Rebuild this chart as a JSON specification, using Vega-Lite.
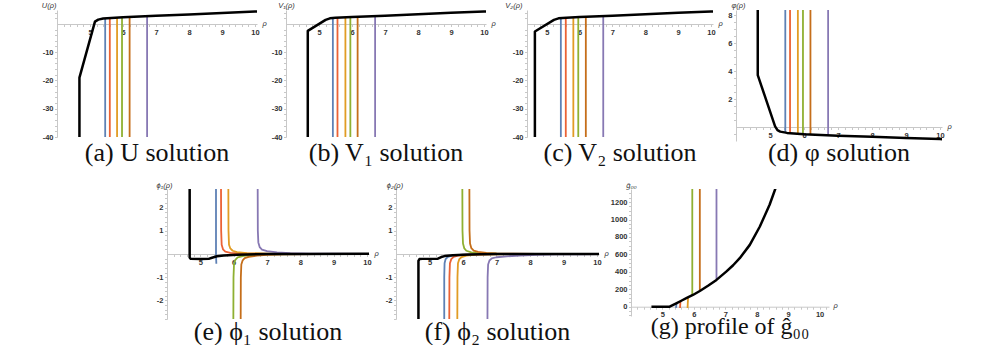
{
"$schema": "https://vega.github.io/schema/vega-lite/v6.json",
"padding": {"left": 41, "top": 1, "right": 2, "bottom": 0},
"background": "white",
"config": {
  "view": {"stroke": null},
  "axis": {"labelFont": "Liberation Sans", "labelFontSize": 7.5, "labelColor": "#333", "labelFontWeight": "bold", "domainColor": "#c8c8c8", "tickColor": "#c8c8c8", "tickSize": 2.5, "labelPadding": 1.5, "grid": false, "titleFont": "Liberation Sans", "titleFontSize": 7.5, "titleFontWeight": "normal", "titleFontStyle": "italic", "titleColor": "#333", "labelOverlap": false, "labelFlush": false, "titleAngle": 0},
  "title": {"font": "Liberation Serif", "fontSize": 26, "fontWeight": "normal", "color": "#111", "orient": "bottom", "anchor": "middle", "frame": "group", "baseline": "alphabetic", "offset": -1},
  "line": {"strokeJoin": "round", "clip": true}
},
"datasets": {
  "a": [
    {"s":"K","x":4.68,"y":-45,"i":0},{"s":"K","x":4.68,"y":-19,"i":1},{"s":"K","x":5.15,"y":0.8,"i":2},{"s":"K","x":5.25,"y":1.5,"i":3},{"s":"K","x":5.4,"y":1.9,"i":4},{"s":"K","x":6,"y":2.3,"i":5},{"s":"K","x":7,"y":2.85,"i":6},{"s":"K","x":8,"y":3.35,"i":7},{"s":"K","x":9,"y":3.85,"i":8},{"s":"K","x":10,"y":4.35,"i":9},{"s":"K","x":10.1,"y":4.4,"i":10},
    {"s":"B","x":5.46,"y":-45,"i":0},{"s":"B","x":5.46,"y":1.95,"i":1},
    {"s":"R","x":5.6,"y":-45,"i":0},{"s":"R","x":5.6,"y":2.05,"i":1},
    {"s":"O","x":5.82,"y":-45,"i":0},{"s":"O","x":5.82,"y":2.2,"i":1},
    {"s":"G","x":5.97,"y":-45,"i":0},{"s":"G","x":5.97,"y":2.28,"i":1},
    {"s":"D","x":6.2,"y":-45,"i":0},{"s":"D","x":6.2,"y":2.4,"i":1},
    {"s":"P","x":6.73,"y":-45,"i":0},{"s":"P","x":6.73,"y":2.7,"i":1}
  ],
  "b": [
    {"s":"K","x":4.66,"y":-45,"i":0},{"s":"K","x":4.66,"y":-2.5,"i":1},{"s":"K","x":5.2,"y":1.4,"i":2},{"s":"K","x":5.33,"y":1.95,"i":3},{"s":"K","x":5.5,"y":2.15,"i":4},{"s":"K","x":6,"y":2.4,"i":5},{"s":"K","x":7,"y":2.9,"i":6},{"s":"K","x":8,"y":3.4,"i":7},{"s":"K","x":9,"y":3.9,"i":8},{"s":"K","x":10,"y":4.35,"i":9},{"s":"K","x":10.1,"y":4.4,"i":10},
    {"s":"B","x":5.42,"y":-45,"i":0},{"s":"B","x":5.42,"y":2.1,"i":1},
    {"s":"R","x":5.56,"y":-45,"i":0},{"s":"R","x":5.56,"y":2.2,"i":1},
    {"s":"O","x":5.8,"y":-45,"i":0},{"s":"O","x":5.8,"y":2.3,"i":1},
    {"s":"G","x":5.95,"y":-45,"i":0},{"s":"G","x":5.95,"y":2.38,"i":1},
    {"s":"D","x":6.17,"y":-45,"i":0},{"s":"D","x":6.17,"y":2.48,"i":1},
    {"s":"P","x":6.7,"y":-45,"i":0},{"s":"P","x":6.7,"y":2.75,"i":1}
  ],
  "c": [
    {"s":"K","x":4.64,"y":-45,"i":0},{"s":"K","x":4.64,"y":-2.7,"i":1},{"s":"K","x":5.22,"y":1.4,"i":2},{"s":"K","x":5.36,"y":1.95,"i":3},{"s":"K","x":5.6,"y":2.2,"i":4},{"s":"K","x":6,"y":2.4,"i":5},{"s":"K","x":7,"y":2.9,"i":6},{"s":"K","x":8,"y":3.4,"i":7},{"s":"K","x":9,"y":3.9,"i":8},{"s":"K","x":10,"y":4.35,"i":9},{"s":"K","x":10.1,"y":4.4,"i":10},
    {"s":"B","x":5.43,"y":-45,"i":0},{"s":"B","x":5.43,"y":2.05,"i":1},
    {"s":"R","x":5.58,"y":-45,"i":0},{"s":"R","x":5.58,"y":2.2,"i":1},
    {"s":"O","x":5.81,"y":-45,"i":0},{"s":"O","x":5.81,"y":2.3,"i":1},
    {"s":"G","x":5.96,"y":-45,"i":0},{"s":"G","x":5.96,"y":2.38,"i":1},
    {"s":"D","x":6.19,"y":-45,"i":0},{"s":"D","x":6.19,"y":2.5,"i":1},
    {"s":"P","x":6.72,"y":-45,"i":0},{"s":"P","x":6.72,"y":2.75,"i":1}
  ],
  "d": [
    {"s":"K","x":4.64,"y":9,"i":0},{"s":"K","x":4.64,"y":3.7,"i":1},{"s":"K","x":5.15,"y":0.05,"i":2},{"s":"K","x":5.22,"y":-0.22,"i":3},{"s":"K","x":5.3,"y":-0.33,"i":4},{"s":"K","x":5.5,"y":-0.42,"i":5},{"s":"K","x":6,"y":-0.52,"i":6},{"s":"K","x":7,"y":-0.62,"i":7},{"s":"K","x":8,"y":-0.7,"i":8},{"s":"K","x":9,"y":-0.78,"i":9},{"s":"K","x":10,"y":-0.86,"i":10},{"s":"K","x":10.1,"y":-0.87,"i":11},
    {"s":"B","x":5.45,"y":9,"i":0},{"s":"B","x":5.45,"y":-0.4,"i":1},
    {"s":"R","x":5.59,"y":9,"i":0},{"s":"R","x":5.59,"y":-0.44,"i":1},
    {"s":"O","x":5.82,"y":9,"i":0},{"s":"O","x":5.82,"y":-0.49,"i":1},
    {"s":"G","x":5.97,"y":9,"i":0},{"s":"G","x":5.97,"y":-0.52,"i":1},
    {"s":"D","x":6.19,"y":9,"i":0},{"s":"D","x":6.19,"y":-0.54,"i":1},
    {"s":"P","x":6.71,"y":9,"i":0},{"s":"P","x":6.71,"y":-0.59,"i":1}
  ],
  "e": [
    {"s":"K","x":4.68,"y":3,"i":0},{"s":"K","x":4.68,"y":-0.15,"i":1},{"s":"K","x":4.71,"y":-0.21,"i":2},{"s":"K","x":5.0,"y":-0.22,"i":3},{"s":"K","x":5.25,"y":-0.21,"i":4},{"s":"K","x":5.35,"y":-0.16,"i":5},{"s":"K","x":5.5,"y":-0.1,"i":6},{"s":"K","x":5.7,"y":-0.06,"i":7},{"s":"K","x":6.1,"y":-0.03,"i":8},{"s":"K","x":7,"y":-0.005,"i":9},{"s":"K","x":8,"y":0.005,"i":10},{"s":"K","x":10.1,"y":0.01,"i":11},
    {"s":"B","x":5.47,"y":3,"i":0},{"s":"B","x":5.47,"y":0,"i":1},{"s":"B","x":5.48,"y":-0.42,"i":2},
    {"s":"R","x":5.62,"y":3,"i":0},{"s":"R","x":5.625,"y":1,"i":1},{"s":"R","x":5.64,"y":0.4,"i":2},{"s":"R","x":5.68,"y":0.2,"i":3},{"s":"R","x":5.75,"y":0.1,"i":4},{"s":"R","x":5.9,"y":0.05,"i":5},{"s":"R","x":6.3,"y":0.02,"i":6},{"s":"R","x":7,"y":0.005,"i":7},{"s":"R","x":10.1,"y":0,"i":8},
    {"s":"O","x":5.84,"y":3,"i":0},{"s":"O","x":5.845,"y":1,"i":1},{"s":"O","x":5.86,"y":0.4,"i":2},{"s":"O","x":5.9,"y":0.24,"i":3},{"s":"O","x":5.97,"y":0.14,"i":4},{"s":"O","x":6.1,"y":0.08,"i":5},{"s":"O","x":6.4,"y":0.04,"i":6},{"s":"O","x":7,"y":0.015,"i":7},{"s":"O","x":8,"y":0.005,"i":8},{"s":"O","x":10.1,"y":0,"i":9},
    {"s":"G","x":5.99,"y":-3,"i":0},{"s":"G","x":5.995,"y":-1,"i":1},{"s":"G","x":6.01,"y":-0.45,"i":2},{"s":"G","x":6.05,"y":-0.25,"i":3},{"s":"G","x":6.12,"y":-0.15,"i":4},{"s":"G","x":6.3,"y":-0.08,"i":5},{"s":"G","x":6.6,"y":-0.04,"i":6},{"s":"G","x":7,"y":-0.02,"i":7},{"s":"G","x":8,"y":-0.005,"i":8},{"s":"G","x":10.1,"y":0,"i":9},
    {"s":"D","x":6.21,"y":-3,"i":0},{"s":"D","x":6.215,"y":-1,"i":1},{"s":"D","x":6.23,"y":-0.45,"i":2},{"s":"D","x":6.27,"y":-0.27,"i":3},{"s":"D","x":6.33,"y":-0.18,"i":4},{"s":"D","x":6.45,"y":-0.12,"i":5},{"s":"D","x":6.7,"y":-0.07,"i":6},{"s":"D","x":7,"y":-0.04,"i":7},{"s":"D","x":7.5,"y":-0.015,"i":8},{"s":"D","x":8.5,"y":-0.005,"i":9},{"s":"D","x":10.1,"y":0,"i":10},
    {"s":"P","x":6.72,"y":3,"i":0},{"s":"P","x":6.725,"y":1,"i":1},{"s":"P","x":6.74,"y":0.5,"i":2},{"s":"P","x":6.78,"y":0.3,"i":3},{"s":"P","x":6.85,"y":0.19,"i":4},{"s":"P","x":7,"y":0.12,"i":5},{"s":"P","x":7.3,"y":0.07,"i":6},{"s":"P","x":7.7,"y":0.04,"i":7},{"s":"P","x":8.3,"y":0.02,"i":8},{"s":"P","x":9,"y":0.01,"i":9},{"s":"P","x":10.1,"y":0.005,"i":10}
  ],
  "f": [
    {"s":"K","x":4.67,"y":-3,"i":0},{"s":"K","x":4.67,"y":-0.3,"i":1},{"s":"K","x":4.7,"y":-0.22,"i":2},{"s":"K","x":4.8,"y":-0.21,"i":3},{"s":"K","x":5.25,"y":-0.2,"i":4},{"s":"K","x":5.35,"y":-0.13,"i":5},{"s":"K","x":5.45,"y":-0.09,"i":6},{"s":"K","x":5.7,"y":-0.05,"i":7},{"s":"K","x":6,"y":-0.03,"i":8},{"s":"K","x":6.5,"y":-0.01,"i":9},{"s":"K","x":7,"y":0,"i":10},{"s":"K","x":10.1,"y":0.005,"i":11},
    {"s":"B","x":5.44,"y":-3,"i":0},{"s":"B","x":5.44,"y":-1,"i":1},{"s":"B","x":5.45,"y":-0.4,"i":2},{"s":"B","x":5.48,"y":-0.22,"i":3},{"s":"B","x":5.55,"y":-0.12,"i":4},{"s":"B","x":5.7,"y":-0.06,"i":5},{"s":"B","x":6,"y":-0.03,"i":6},{"s":"B","x":6.5,"y":-0.01,"i":7},{"s":"B","x":7,"y":0,"i":8},{"s":"B","x":10.1,"y":0,"i":9},
    {"s":"R","x":5.59,"y":-3,"i":0},{"s":"R","x":5.595,"y":-1,"i":1},{"s":"R","x":5.61,"y":-0.4,"i":2},{"s":"R","x":5.65,"y":-0.22,"i":3},{"s":"R","x":5.72,"y":-0.12,"i":4},{"s":"R","x":5.85,"y":-0.07,"i":5},{"s":"R","x":6.1,"y":-0.03,"i":6},{"s":"R","x":6.6,"y":-0.01,"i":7},{"s":"R","x":7.2,"y":0,"i":8},{"s":"R","x":10.1,"y":0,"i":9},
    {"s":"O","x":5.83,"y":-3,"i":0},{"s":"O","x":5.835,"y":-1,"i":1},{"s":"O","x":5.85,"y":-0.4,"i":2},{"s":"O","x":5.89,"y":-0.22,"i":3},{"s":"O","x":5.96,"y":-0.13,"i":4},{"s":"O","x":6.1,"y":-0.07,"i":5},{"s":"O","x":6.4,"y":-0.03,"i":6},{"s":"O","x":6.9,"y":-0.01,"i":7},{"s":"O","x":7.5,"y":0,"i":8},{"s":"O","x":10.1,"y":0,"i":9},
    {"s":"G","x":5.98,"y":3,"i":0},{"s":"G","x":5.985,"y":1,"i":1},{"s":"G","x":6,"y":0.45,"i":2},{"s":"G","x":6.04,"y":0.24,"i":3},{"s":"G","x":6.1,"y":0.14,"i":4},{"s":"G","x":6.25,"y":0.07,"i":5},{"s":"G","x":6.5,"y":0.03,"i":6},{"s":"G","x":7,"y":0.01,"i":7},{"s":"G","x":10.1,"y":0,"i":8},
    {"s":"D","x":6.19,"y":3,"i":0},{"s":"D","x":6.195,"y":1,"i":1},{"s":"D","x":6.21,"y":0.45,"i":2},{"s":"D","x":6.25,"y":0.25,"i":3},{"s":"D","x":6.32,"y":0.15,"i":4},{"s":"D","x":6.45,"y":0.09,"i":5},{"s":"D","x":6.7,"y":0.05,"i":6},{"s":"D","x":7,"y":0.03,"i":7},{"s":"D","x":7.5,"y":0.015,"i":8},{"s":"D","x":8.2,"y":0.005,"i":9},{"s":"D","x":10.1,"y":0,"i":10},
    {"s":"P","x":6.73,"y":-3,"i":0},{"s":"P","x":6.735,"y":-1,"i":1},{"s":"P","x":6.75,"y":-0.45,"i":2},{"s":"P","x":6.79,"y":-0.28,"i":3},{"s":"P","x":6.86,"y":-0.19,"i":4},{"s":"P","x":7,"y":-0.14,"i":5},{"s":"P","x":7.3,"y":-0.1,"i":6},{"s":"P","x":7.7,"y":-0.07,"i":7},{"s":"P","x":8.2,"y":-0.04,"i":8},{"s":"P","x":8.8,"y":-0.02,"i":9},{"s":"P","x":9.5,"y":-0.01,"i":10},{"s":"P","x":10.1,"y":0,"i":11}
  ],
  "g": [
    {"s":"K","x":4.65,"y":0,"i":0},{"s":"K","x":5.23,"y":0,"i":1},{"s":"K","x":5.44,"y":39,"i":2},{"s":"K","x":5.6,"y":68,"i":3},{"s":"K","x":5.76,"y":97,"i":4},{"s":"K","x":5.97,"y":134,"i":5},{"s":"K","x":6.19,"y":180,"i":6},{"s":"K","x":6.45,"y":240,"i":7},{"s":"K","x":6.72,"y":307,"i":8},{"s":"K","x":7.03,"y":402,"i":9},{"s":"K","x":7.25,"y":475,"i":10},{"s":"K","x":7.46,"y":556,"i":11},{"s":"K","x":7.78,"y":709,"i":12},{"s":"K","x":8.1,"y":920,"i":13},{"s":"K","x":8.41,"y":1169,"i":14},{"s":"K","x":8.62,"y":1380,"i":15},
    {"s":"B","x":5.43,"y":-15,"i":0},{"s":"B","x":5.45,"y":39,"i":1},
    {"s":"R","x":5.56,"y":-15,"i":0},{"s":"R","x":5.575,"y":64,"i":1},
    {"s":"O","x":5.8,"y":-15,"i":0},{"s":"O","x":5.815,"y":102,"i":1},
    {"s":"G","x":5.95,"y":1400,"i":0},{"s":"G","x":5.95,"y":131,"i":1},
    {"s":"D","x":6.19,"y":1400,"i":0},{"s":"D","x":6.19,"y":180,"i":1},
    {"s":"P","x":6.72,"y":1400,"i":0},{"s":"P","x":6.72,"y":307,"i":1}
  ]
},
"vconcat": [
  {"hconcat": [
    {"width": 200, "height": 127, "data": {"name": "a"}, "title": {"text": "(a) U solution"},
     "encoding": {
       "x": {"field": "x", "type": "quantitative", "scale": {"domain": [4, 10.06], "nice": false, "zero": false},
             "axis": {"title": "ρ", "offset": -113, "values": [4.2,4.4,4.6,4.8,5,5.2,5.4,5.6,5.8,6,6.2,6.4,6.6,6.8,7,7.2,7.4,7.6,7.8,8,8.2,8.4,8.6,8.8,9,9.2,9.4,9.6,9.8,10], "labelExpr": "datum.value >= 5 && datum.value % 1 == 0 ? datum.value + '' : ''", "titleX": 205, "titleY": -1, "titleAlign": "left", "titleBaseline": "middle"}},
       "y": {"field": "y", "type": "quantitative", "scale": {"domain": [-40, 4.9], "nice": false, "zero": false},
             "axis": {"title": "U(ρ)", "values": [-40,-38,-36,-34,-32,-30,-28,-26,-24,-22,-20,-18,-16,-14,-12,-10,-8,-6,-4,-2,2,4], "labelExpr": "datum.value % 10 == 0 ? datum.value + '' : ''", "titleX": -1, "titleY": -3, "titleAlign": "right", "titleBaseline": "alphabetic"}},
       "color": {"field": "s", "type": "nominal", "scale": {"domain": ["B","R","O","G","D","P","K"], "range": ["#5E81B5","#EB6235","#E19C24","#8FB032","#C56E1A","#8778B3","#000000"]}, "legend": null},
       "order": {"field": "i", "type": "quantitative"}},
     "layer": [
       {"transform": [{"filter": "datum.s != 'K'"}], "mark": {"type": "line", "strokeWidth": 1.8, "clip": true}},
       {"transform": [{"filter": "datum.s == 'K'"}], "mark": {"type": "line", "strokeWidth": 2.5, "clip": true}}
     ]},
    {"width": 29, "height": 1, "data": {"values": []}, "mark": "point"},
    {"width": 200, "height": 127, "data": {"name": "b"}, "title": {"text": "(b) V₁ solution"},
     "encoding": {
       "x": {"field": "x", "type": "quantitative", "scale": {"domain": [4, 10.06], "nice": false, "zero": false},
             "axis": {"title": "ρ", "offset": -113, "values": [4.2,4.4,4.6,4.8,5,5.2,5.4,5.6,5.8,6,6.2,6.4,6.6,6.8,7,7.2,7.4,7.6,7.8,8,8.2,8.4,8.6,8.8,9,9.2,9.4,9.6,9.8,10], "labelExpr": "datum.value >= 5 && datum.value % 1 == 0 ? datum.value + '' : ''", "titleX": 205, "titleY": -1, "titleAlign": "left", "titleBaseline": "middle"}},
       "y": {"field": "y", "type": "quantitative", "scale": {"domain": [-40, 4.9], "nice": false, "zero": false},
             "axis": {"title": "V₁(ρ)", "values": [-40,-38,-36,-34,-32,-30,-28,-26,-24,-22,-20,-18,-16,-14,-12,-10,-8,-6,-4,-2,2,4], "labelExpr": "datum.value % 10 == 0 ? datum.value + '' : ''", "titleX": 0, "titleY": -3, "titleAlign": "center", "titleBaseline": "alphabetic"}},
       "color": {"field": "s", "type": "nominal", "scale": {"domain": ["B","R","O","G","D","P","K"], "range": ["#5E81B5","#EB6235","#E19C24","#8FB032","#C56E1A","#8778B3","#000000"]}, "legend": null},
       "order": {"field": "i", "type": "quantitative"}},
     "layer": [
       {"transform": [{"filter": "datum.s != 'K'"}], "mark": {"type": "line", "strokeWidth": 1.8, "clip": true}},
       {"transform": [{"filter": "datum.s == 'K'"}], "mark": {"type": "line", "strokeWidth": 2.5, "clip": true}}
     ]},
    {"width": 41, "height": 1, "data": {"values": []}, "mark": "point"},
    {"width": 186, "height": 127, "data": {"name": "c"}, "title": {"text": "(c) V₂ solution"},
     "encoding": {
       "x": {"field": "x", "type": "quantitative", "scale": {"domain": [4.4, 10.06], "nice": false, "zero": false},
             "axis": {"title": "ρ", "offset": -113, "values": [4.6,4.8,5,5.2,5.4,5.6,5.8,6,6.2,6.4,6.6,6.8,7,7.2,7.4,7.6,7.8,8,8.2,8.4,8.6,8.8,9,9.2,9.4,9.6,9.8,10], "labelExpr": "datum.value >= 5 && datum.value % 1 == 0 ? datum.value + '' : ''", "titleX": 191, "titleY": -1, "titleAlign": "left", "titleBaseline": "middle"}},
       "y": {"field": "y", "type": "quantitative", "scale": {"domain": [-40, 4.9], "nice": false, "zero": false},
             "axis": {"title": "V₂(ρ)", "values": [-40,-38,-36,-34,-32,-30,-28,-26,-24,-22,-20,-18,-16,-14,-12,-10,-8,-6,-4,-2,2,4], "labelExpr": "datum.value % 10 == 0 ? datum.value + '' : ''", "titleX": -5, "titleY": -3, "titleAlign": "right", "titleBaseline": "alphabetic"}},
       "color": {"field": "s", "type": "nominal", "scale": {"domain": ["B","R","O","G","D","P","K"], "range": ["#5E81B5","#EB6235","#E19C24","#8FB032","#C56E1A","#8778B3","#000000"]}, "legend": null},
       "order": {"field": "i", "type": "quantitative"}},
     "layer": [
       {"transform": [{"filter": "datum.s != 'K'"}], "mark": {"type": "line", "strokeWidth": 1.8, "clip": true}},
       {"transform": [{"filter": "datum.s == 'K'"}], "mark": {"type": "line", "strokeWidth": 2.5, "clip": true}}
     ]},
    {"width": 23, "height": 1, "data": {"values": []}, "mark": "point"},
    {"width": 206, "height": 131, "data": {"name": "d"}, "title": {"text": "(d) φ solution"},
     "encoding": {
       "x": {"field": "x", "type": "quantitative", "scale": {"domain": [4, 10.06], "nice": false, "zero": false},
             "axis": {"title": "ρ", "offset": -14, "values": [4.2,4.4,4.6,4.8,5,5.2,5.4,5.6,5.8,6,6.2,6.4,6.6,6.8,7,7.2,7.4,7.6,7.8,8,8.2,8.4,8.6,8.8,9,9.2,9.4,9.6,9.8,10], "labelExpr": "datum.value >= 5 && datum.value % 1 == 0 ? datum.value + '' : ''", "titleX": 211, "titleY": -1, "titleAlign": "left", "titleBaseline": "middle"}},
       "y": {"field": "y", "type": "quantitative", "scale": {"domain": [-1, 8.36], "nice": false, "zero": false},
             "axis": {"title": "φ(ρ)", "values": [-0.5,0.5,1,1.5,2,2.5,3,3.5,4,4.5,5,5.5,6,6.5,7,7.5,8], "labelExpr": "datum.value % 2 == 0 ? datum.value + '' : ''", "titleX": 2, "titleY": -3, "titleAlign": "center", "titleBaseline": "alphabetic"}},
       "color": {"field": "s", "type": "nominal", "scale": {"domain": ["B","R","O","G","D","P","K"], "range": ["#5E81B5","#EB6235","#E19C24","#8FB032","#C56E1A","#8778B3","#000000"]}, "legend": null},
       "order": {"field": "i", "type": "quantitative"}},
     "layer": [
       {"transform": [{"filter": "datum.s != 'K'"}], "mark": {"type": "line", "strokeWidth": 1.8, "clip": true}},
       {"transform": [{"filter": "datum.s == 'K'"}], "mark": {"type": "line", "strokeWidth": 2.5, "clip": true}}
     ]}
  ], "spacing": 0, "bounds": "flush"},
  {"hconcat": [
    {"width": 110, "height": 1, "data": {"values": []}, "mark": "point"},
    {"width": 202, "height": 130, "data": {"name": "e"}, "title": {"text": "(e) ϕ₁ solution", "offset": -4},
     "encoding": {
       "x": {"field": "x", "type": "quantitative", "scale": {"domain": [4, 10.06], "nice": false, "zero": false},
             "axis": {"title": "ρ", "offset": -65, "values": [4.2,4.4,4.6,4.8,5,5.2,5.4,5.6,5.8,6,6.2,6.4,6.6,6.8,7,7.2,7.4,7.6,7.8,8,8.2,8.4,8.6,8.8,9,9.2,9.4,9.6,9.8,10], "labelExpr": "datum.value >= 5 && datum.value % 1 == 0 ? datum.value + '' : ''", "titleX": 207, "titleY": -1, "titleAlign": "left", "titleBaseline": "middle"}},
       "y": {"field": "y", "type": "quantitative", "scale": {"domain": [-2.8, 2.8], "nice": false, "zero": false},
             "axis": {"title": "ϕ₁(ρ)", "values": [-2.8,-2.6,-2.4,-2.2,-2,-1.8,-1.6,-1.4,-1.2,-1,-0.8,-0.6,-0.4,-0.2,0.2,0.4,0.6,0.8,1,1.2,1.4,1.6,1.8,2,2.2,2.4,2.6,2.8], "labelExpr": "abs(datum.value) == 1 || abs(datum.value) == 2 ? datum.value + '' : ''", "titleX": -3, "titleY": -2, "titleAlign": "center", "titleBaseline": "alphabetic"}},
       "color": {"field": "s", "type": "nominal", "scale": {"domain": ["B","R","O","G","D","P","K"], "range": ["#5E81B5","#EB6235","#E19C24","#8FB032","#C56E1A","#8778B3","#000000"]}, "legend": null},
       "order": {"field": "i", "type": "quantitative"}},
     "layer": [
       {"transform": [{"filter": "datum.s != 'K'"}], "mark": {"type": "line", "strokeWidth": 1.8, "clip": true}},
       {"transform": [{"filter": "datum.s == 'K'"}], "mark": {"type": "line", "strokeWidth": 2.5, "clip": true}}
     ]},
    {"width": 27, "height": 1, "data": {"values": []}, "mark": "point"},
    {"width": 203, "height": 130, "data": {"name": "f"}, "title": {"text": "(f) ϕ₂ solution", "offset": -4},
     "encoding": {
       "x": {"field": "x", "type": "quantitative", "scale": {"domain": [4, 10.06], "nice": false, "zero": false},
             "axis": {"title": "ρ", "offset": -65, "values": [4.2,4.4,4.6,4.8,5,5.2,5.4,5.6,5.8,6,6.2,6.4,6.6,6.8,7,7.2,7.4,7.6,7.8,8,8.2,8.4,8.6,8.8,9,9.2,9.4,9.6,9.8,10], "labelExpr": "datum.value >= 5 && datum.value % 1 == 0 ? datum.value + '' : ''", "titleX": 208, "titleY": -1, "titleAlign": "left", "titleBaseline": "middle"}},
       "y": {"field": "y", "type": "quantitative", "scale": {"domain": [-2.8, 2.8], "nice": false, "zero": false},
             "axis": {"title": "ϕ₂(ρ)", "values": [-2.8,-2.6,-2.4,-2.2,-2,-1.8,-1.6,-1.4,-1.2,-1,-0.8,-0.6,-0.4,-0.2,0.2,0.4,0.6,0.8,1,1.2,1.4,1.6,1.8,2,2.2,2.4,2.6,2.8], "labelExpr": "abs(datum.value) == 1 || abs(datum.value) == 2 ? datum.value + '' : ''", "titleX": -1.5, "titleY": -2, "titleAlign": "center", "titleBaseline": "alphabetic"}},
       "color": {"field": "s", "type": "nominal", "scale": {"domain": ["B","R","O","G","D","P","K"], "range": ["#5E81B5","#EB6235","#E19C24","#8FB032","#C56E1A","#8778B3","#000000"]}, "legend": null},
       "order": {"field": "i", "type": "quantitative"}},
     "layer": [
       {"transform": [{"filter": "datum.s != 'K'"}], "mark": {"type": "line", "strokeWidth": 1.8, "clip": true}},
       {"transform": [{"filter": "datum.s == 'K'"}], "mark": {"type": "line", "strokeWidth": 2.5, "clip": true}}
     ]},
    {"width": 32, "height": 1, "data": {"values": []}, "mark": "point"},
    {"width": 198, "height": 127, "data": {"name": "g"}, "title": {"text": "(g) profile of ĝ₀₀", "offset": -4, "fontSize": 24},
     "encoding": {
       "x": {"field": "x", "type": "quantitative", "scale": {"domain": [4, 10.3], "nice": false, "zero": false},
             "axis": {"title": "ρ", "offset": -9.3, "values": [4.2,4.4,4.6,4.8,5,5.2,5.4,5.6,5.8,6,6.2,6.4,6.6,6.8,7,7.2,7.4,7.6,7.8,8,8.2,8.4,8.6,8.8,9,9.2,9.4,9.6,9.8,10,10.2], "labelExpr": "datum.value >= 5 && datum.value % 1 == 0 ? datum.value + '' : ''", "titleX": 202, "titleY": -1, "titleAlign": "left", "titleBaseline": "middle"}},
       "y": {"field": "y", "type": "quantitative", "scale": {"domain": [-107, 1350], "nice": false, "zero": false},
             "axis": {"title": "ĝ₀₀", "values": [-100,-50,0,50,100,150,200,250,300,350,400,450,500,550,600,650,700,750,800,850,900,950,1000,1050,1100,1150,1200,1250,1300], "labelExpr": "datum.value >= 0 && datum.value % 200 == 0 ? datum.value + '' : ''", "titleX": 0, "titleY": -2, "titleAlign": "center", "titleBaseline": "alphabetic"}},
       "color": {"field": "s", "type": "nominal", "scale": {"domain": ["B","R","O","G","D","P","K"], "range": ["#5E81B5","#EB6235","#E19C24","#8FB032","#C56E1A","#8778B3","#000000"]}, "legend": null},
       "order": {"field": "i", "type": "quantitative"}},
     "layer": [
       {"transform": [{"filter": "datum.s != 'K'"}], "mark": {"type": "line", "strokeWidth": 1.8, "clip": true}},
       {"transform": [{"filter": "datum.s == 'K'"}], "mark": {"type": "line", "strokeWidth": 2.5, "clip": true}}
     ]}
  ], "spacing": 0, "bounds": "flush"}
],
"spacing": 15,
"bounds": "full"
}
